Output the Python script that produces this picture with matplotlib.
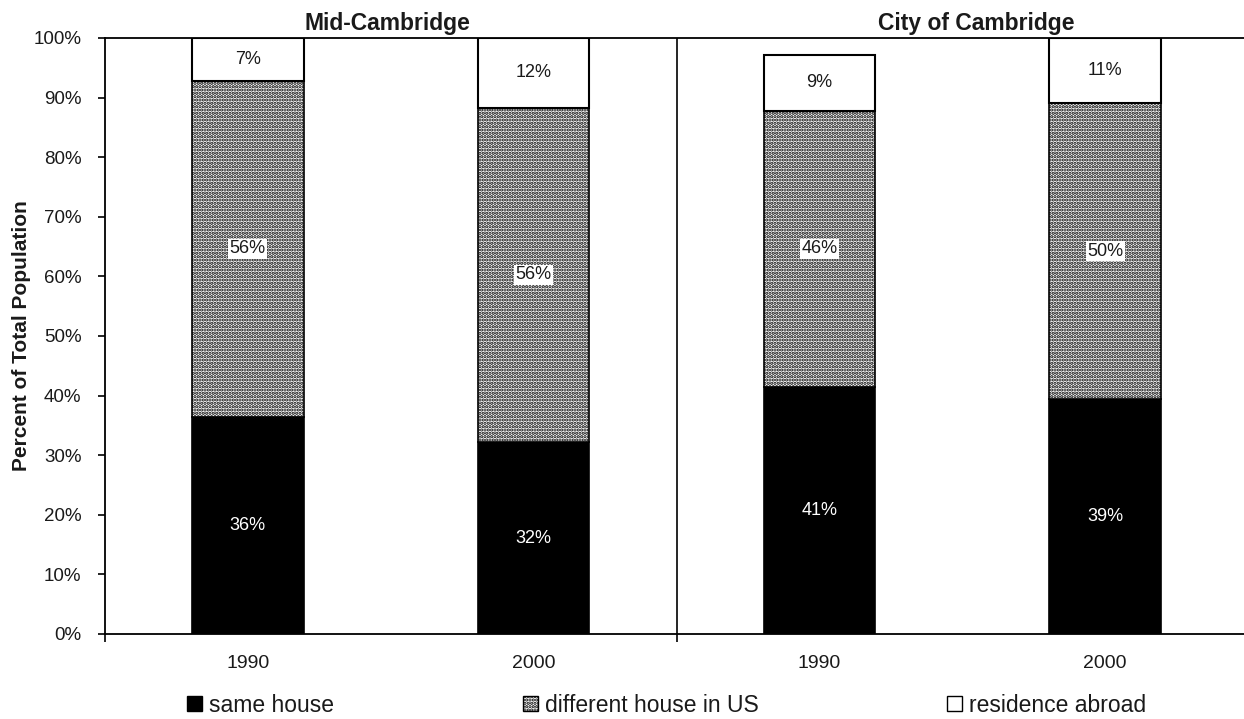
import matplotlib
matplotlib.use("Agg")
import matplotlib.pyplot as plt
from matplotlib.patches import Patch
import numpy as np

plt.rcParams["font.family"] = ["Liberation Sans", "DejaVu Sans"]
plt.rcParams["hatch.linewidth"] = 1.6

# Share of residents by where they lived five years earlier (percent)
areas = ["Mid-Cambridge", "City of Cambridge"]
years = ["1990", "2000", "1990", "2000"]
same_house = [36.4, 32.2, 41.4, 39.4]
different_house_us = [56.4, 56.1, 46.4, 49.7]
residence_abroad = [7.2, 11.7, 9.4, 10.9]
y_ticks = [0, 10, 20, 30, 40, 50, 60, 70, 80, 90, 100]

fig = plt.figure(figsize=(12.44, 7.19), dpi=100)
ax = fig.add_axes([105 / 1244, 1 - 634 / 719, 1143 / 1244, 596 / 719])

x = np.arange(len(years))
width = 0.39
txt = "#1a1a1a"
dots = "....."

ax.bar(x, same_house, width, color="black", edgecolor="black", linewidth=1.2)
ax.bar(x, different_house_us, width, bottom=same_house, color="white",
       edgecolor="black", hatch=dots, linewidth=1.2)
bottom3 = np.add(same_house, different_house_us)
ax.bar(x, residence_abroad, width, bottom=bottom3, color="white",
       edgecolor="black", linewidth=1.5)

for i in range(len(x)):
    ax.text(x[i], same_house[i] / 2, f"{same_house[i]:.0f}%", ha="center",
            va="center", color="white", fontsize=13)
    ax.text(x[i], same_house[i] + different_house_us[i] / 2,
            f"{different_house_us[i]:.0f}%", ha="center", va="center",
            color=txt, fontsize=13,
            bbox=dict(facecolor="white", edgecolor="none", pad=1.0))
    ax.text(x[i], bottom3[i] + residence_abroad[i] / 2,
            f"{residence_abroad[i]:.0f}%", ha="center", va="center",
            color=txt, fontsize=13)

ax.set_xlim(-0.5, 3.5)
ax.set_ylim(0, 100)
ax.set_yticks(y_ticks)
ax.set_yticklabels([f"{t}%" for t in y_ticks], fontsize=13.5, color=txt)
ax.tick_params(axis="y", direction="out", length=5, width=1.2, pad=12)

# group separators as major ticks, year labels on minor ticks
ax.set_xticks([-0.5, 1.5, 3.5])
ax.set_xticklabels([])
ax.tick_params(axis="x", which="major", direction="out", length=6, width=1.2)
ax.set_xticks(x, minor=True)
ax.set_xticklabels(years, minor=True, fontsize=14, color=txt)
ax.tick_params(axis="x", which="minor", length=0, pad=15)
ax.axvline(1.5, color="black", linewidth=1.2)

for s in ["left", "top", "bottom"]:
    ax.spines[s].set_linewidth(1.3)
ax.spines["right"].set_visible(False)

ax.set_ylabel("Percent of Total Population", fontsize=15, fontweight="bold",
              color=txt, labelpad=2)

ax.text(0.487, 101.3, areas[0], ha="center", va="baseline", fontsize=16.5,
        fontweight="bold", color=txt)
ax.text(2.55, 101.3, areas[1], ha="center", va="baseline", fontsize=16.5,
        fontweight="bold", color=txt)

handles = [Patch(facecolor="black", edgecolor="black", label="same house"),
           Patch(facecolor="white", edgecolor="black", hatch=dots,
                 label="different house in US"),
           Patch(facecolor="white", edgecolor="black", label="residence abroad")]
anchors = [187, 523, 947]
for h, ax_x in zip(handles, anchors):
    leg = fig.legend(handles=[h], loc="center left",
                     bbox_to_anchor=(ax_x / 1244, 1 - 705 / 719),
                     frameon=False, fontsize=16.5, handlelength=0.65,
                     handleheight=0.65, handletextpad=0.3, borderpad=0,
                     borderaxespad=0)
    for t in leg.get_texts():
        t.set_color(txt)

fig.savefig("out.png", dpi=100, facecolor="white")
